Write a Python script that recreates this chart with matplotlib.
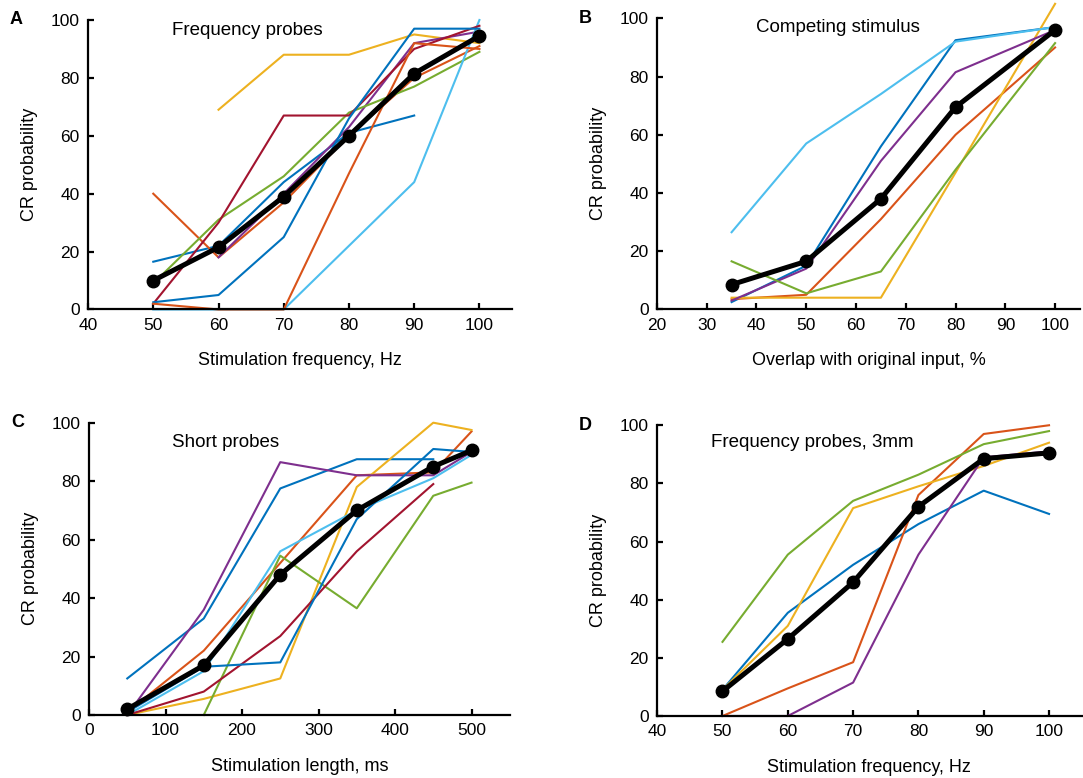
import numpy as np
import matplotlib
matplotlib.use('Agg')
import matplotlib.pyplot as plt

plt.rcParams['font.family'] = ['Liberation Sans', 'DejaVu Sans']

# MATLAB default colour order
blue, orange, yellow, purple = '#0072BD', '#D95319', '#EDB120', '#7E2F8E'
green, lightblue, darkred = '#77AC30', '#4DBEEE', '#A2142F'

# --- A: frequency probes ---
freq_a = [50, 60, 70, 80, 90, 100]
lines_a = [
    (blue,      [16.5, 22, 44, 61, 67, None]),
    (orange,    [40, 18, 37, 60, 80, 91]),
    (yellow,    [None, 69, 88, 88, 95, 92]),
    (purple,    [None, 18, 40, 63, 92, 96]),
    (green,     [9, 31, 46, 68, 77, 89]),
    (lightblue, [0, 0, 0, 22, 44, 100]),
    (darkred,   [2, 30, 67, 67, 90, 98]),
    (blue,      [2.5, 5, 25, 66, 97, 97]),
    (orange,    [2, 0, 0, 47, 92, 90]),
]
mean_a = [10, 21.5, 39, 60, 81.5, 94.5]

# --- B: competing stimulus ---
overlap_b = [35, 50, 65, 80, 100]
lines_b = [
    (blue,      [2.5, 15, 56, 92.5, 97]),
    (orange,    [3.5, 5, 31, 60, 90]),
    (yellow,    [4, 4, 4, 47, 105]),
    (purple,    [3, 14, 51, 81.5, 96]),
    (green,     [16.5, 5.5, 13, 48, 91.5]),
    (lightblue, [26.5, 57, 74, 92, 97]),
]
mean_b = [8.5, 16.5, 38, 69.5, 96]

# --- C: short probes ---
length_c = [50, 150, 250, 350, 450, 500]
lines_c = [
    (blue,      [12.5, 33, 77.5, 87.5, 87.5, None]),
    (orange,    [1, 22, 52, 82, 83, 97]),
    (yellow,    [0, 5.5, 12.5, 78, 100, 97.5]),
    (purple,    [0, 36, 86.5, 82, 82, 90]),
    (green,     [None, 0, 54.5, 36.5, 75, 79.5]),
    (lightblue, [0, 15, 56, 70, 81, 89]),
    (darkred,   [0, 8, 27, 56, 79, None]),
    (blue,      [1, 16.5, 18, 67, 91, 90]),
]
mean_c = [2, 17, 48, 70, 85, 90.5]

# --- D: frequency probes, 3mm ---
freq_d = [50, 60, 70, 80, 90, 100]
lines_d = [
    (blue,   [9, 35.5, 52, 66, 77.5, 69.5]),
    (orange, [0, 9.5, 18.5, 76, 97, 100]),
    (yellow, [9, 31, 71.5, 79, 86, 94]),
    (purple, [0, 0, 11.5, 55.5, 89, 91]),
    (green,  [25.5, 55.5, 74, 83, 93.5, 98]),
]
mean_d = [8.5, 26.5, 46, 72, 88.5, 90.5]

fig = plt.figure(figsize=(10.83, 7.78), dpi=100)

panels = [
    ('A', [0.0813, 0.6022, 0.3915, 0.3721], freq_a, lines_a, mean_a, (40, 105),
     np.arange(40, 101, 10), 'Stimulation frequency, Hz', 'Frequency probes', (52.9, 96.3)),
    ('B', [0.6066, 0.6024, 0.3906, 0.3740], overlap_b, lines_b, mean_b, (20, 105),
     np.arange(20, 101, 10), 'Overlap with original input, %', 'Competing stimulus', (40, 96.9)),
    ('C', [0.0822, 0.0810, 0.3885, 0.3757], length_c, lines_c, mean_c, (0, 550),
     np.arange(0, 501, 100), 'Stimulation length, ms', 'Short probes', (109, 93.2)),
    ('D', [0.6068, 0.0797, 0.3920, 0.3737], freq_d, lines_d, mean_d, (40, 105),
     np.arange(40, 101, 10), 'Stimulation frequency, Hz', 'Frequency probes, 3mm', (48.3, 94)),
]

for letter, rect, xs, lines, mean, xlim, xticks, xlabel, title, tpos in panels:
    ax = fig.add_axes(rect)
    for color, ys in lines:
        ys = np.array([np.nan if v is None else v for v in ys], dtype=float)
        ax.plot(xs, ys, color=color, lw=1.5, clip_on=False)
    ax.plot(xs, mean, color='black', lw=3.6, marker='o', ms=9,
            clip_on=False, zorder=5)
    ax.set_xlim(*xlim)
    ax.set_ylim(0, 100)
    ax.set_xticks(xticks)
    ax.set_yticks(np.arange(0, 101, 20))
    for s in ['top', 'right']:
        ax.spines[s].set_visible(False)
    for s in ['left', 'bottom']:
        ax.spines[s].set_linewidth(1.6)
    ax.tick_params(direction='in', length=4, width=1.6, labelsize=12.5, pad=6)
    ax.set_xlabel(xlabel, fontsize=13, labelpad=14)
    ax.set_ylabel('CR probability', fontsize=13, labelpad=9)
    ax.text(tpos[0], tpos[1], title, fontsize=13.5, va='center', ha='left')
    ax.text(-0.17, 1.0, letter, transform=ax.transAxes, fontsize=13,
            fontweight='bold', va='center', ha='center')

fig.savefig('out.png', dpi=100)
